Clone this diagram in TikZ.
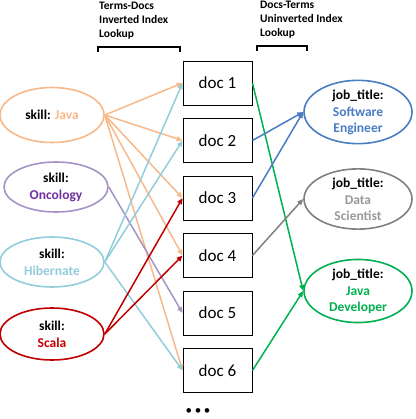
\documentclass[tikz,border=0pt]{standalone}
\usepackage{fontspec}
\setmainfont{Carlito}
\usetikzlibrary{shapes.geometric,arrows.meta}
\definecolor{cJava}{HTML}{F7B98A}
\definecolor{cOnc}{HTML}{A693C6}
\definecolor{cOncT}{HTML}{7030A0}
\definecolor{cHib}{HTML}{92CDDC}
\definecolor{cSca}{HTML}{C00000}
\definecolor{cSE}{HTML}{4A7CC4}
\definecolor{cDS}{HTML}{808080}
\definecolor{cDST}{HTML}{999999}
\definecolor{cJD}{HTML}{00B050}
\tikzset{
  docbox/.style={draw=black, line width=0.9pt, minimum width=69pt, minimum height=44pt, inner sep=0pt, font=\fontsize{17}{20}\selectfont},
  term/.style={ellipse, line width=1.6pt, minimum width=104pt, minimum height=52pt, inner sep=0pt, align=center, font=\fontsize{13.5}{17}\selectfont\bfseries},
  lnk/.style={line width=1.5pt, -{Triangle[length=6pt,width=5pt]}},
  hdr/.style={anchor=north west, align=left, inner sep=0pt, font=\fontsize{11.5}{14}\selectfont\bfseries},
  brk/.style={line width=1.4pt}
}
\begin{document}
\begin{tikzpicture}[x=1pt,y=-1pt]
\useasboundingbox (0,0) rectangle (415,419);
% headers
\node[hdr] (h1) at (99,1.5) {Terms-Docs\\Inverted Index\\Lookup};
\node[hdr] (h2) at (260,1) {Docs-Terms\\Uninverted Index\\Lookup};
\coordinate (b1a) at (98,52); \coordinate (b1b) at (180,52);
\draw[brk] (b1a) -- ++(0,-5) -| (b1b);
\coordinate (b2a) at (257,51); \coordinate (b2b) at (307,51);
\draw[brk] (b2a) -- ++(0,-5) -| (b2b);
% docs
\node[docbox] (d1) at (217.5,83) {doc 1};
\node[docbox] (d2) at (217.5,140.5) {doc 2};
\node[docbox] (d3) at (217.5,198) {doc 3};
\node[docbox] (d4) at (217.5,255.5) {doc 4};
\node[docbox] (d5) at (217.5,313) {doc 5};
\node[docbox] (d6) at (217.5,370.5) {doc 6};
\node[inner sep=0pt] (dots) at (198,411.5) {\fontsize{13}{13}\selectfont\textbullet\hspace{2.6pt}\textbullet\hspace{2.6pt}\textbullet};
% skills
\node[term, draw=cJava, minimum height=55pt] (java) at (52,115) {skill: \textcolor{cJava}{Java}};
\node[term, draw=cOnc, minimum height=50pt] (onc) at (56,187) {skill:\\\textcolor{cOncT}{Oncology}};
\node[term, draw=cHib, minimum height=50pt] (hib) at (52,262) {skill:\\\textcolor{cHib}{Hibernate}};
\node[term, draw=cSca] (sca) at (52,334) {skill:\\\textcolor{cSca}{Scala}};
% job titles
\node[term, draw=cSE, minimum width=108pt, minimum height=55pt] (se) at (358,112) {job\_title:\\\textcolor{cSE}{Software}\\[-1pt]\textcolor{cSE}{Engineer}};
\node[term, draw=cDS, minimum width=108pt, minimum height=52pt] (ds) at (358,199) {job\_title:\\\textcolor{cDST}{Data}\\[-1pt]\textcolor{cDST}{Scientist}};
\node[term, draw=cJD, minimum width=108pt, minimum height=58pt] (jd) at (358,291) {job\_title:\\\textcolor{cJD}{Java}\\[-1pt]\textcolor{cJD}{Developer}};
% left links
\draw[lnk, cJava] (java.east) -- (d1.west);
\draw[lnk, cJava] (java.east) -- (d2.west);
\draw[lnk, cJava] (java.east) -- (d3.west);
\draw[lnk, cJava] (java.east) -- (d4.west);
\draw[lnk, cJava] (java.east) -- (d6.west);
\draw[lnk, cOnc] (onc.east) -- (d5.west);
\draw[lnk, cHib] (hib.east) -- (d1.west);
\draw[lnk, cHib] (hib.east) -- (d2.west);
\draw[lnk, cHib] (hib.east) -- (d6.west);
\draw[lnk, cSca] (sca.east) -- (d3.west);
\draw[lnk, cSca] (sca.east) -- (d4.west);
% right links
\draw[lnk, cJD] (d1.east) -- (jd.west);
\draw[lnk, cSE] (d2.east) -- (se.west);
\draw[lnk, cSE] (d3.east) -- (se.west);
\draw[lnk, cDS] (d4.east) -- (ds.west);
\draw[lnk, cJD] (d6.east) -- (jd.west);
\end{tikzpicture}
\end{document}
